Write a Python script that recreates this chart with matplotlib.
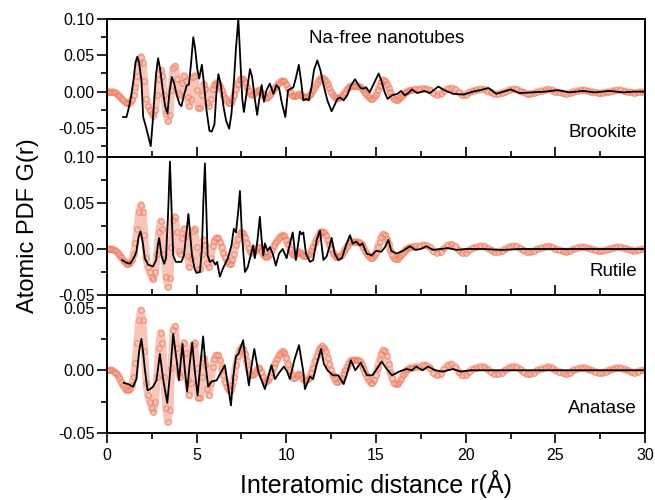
import numpy as np
import matplotlib
matplotlib.use("Agg")
import matplotlib.pyplot as plt
from matplotlib.ticker import MultipleLocator, FormatStrFormatter

plt.rcParams['font.family'] = ['Liberation Sans', 'DejaVu Sans']

# ------------------------------------------------------------------
# Experimental PDF (Na-free nanotubes), read off the figure
# sampled every 0.1 A up to 17 A, every 0.2 A beyond
# ------------------------------------------------------------------
r_exp = np.round(np.concatenate([np.arange(0, 17.0, 0.1),
                                 np.arange(17.0, 30.01, 0.2)]), 2)
g_exp = [
    0.000, 0.000, 0.000, 0.000, -0.001, -0.002, -0.004, -0.006, -0.009, -0.012,
    -0.014, -0.016, -0.016, -0.015, -0.012, -0.005, 0.006, 0.022, 0.040, 0.048,
    0.040, 0.015, -0.010, -0.020, -0.025, -0.030, -0.033, -0.025, -0.005, 0.018,
    0.030, 0.022, -0.005, -0.030, -0.041, -0.032, 0.002, 0.032, 0.035, 0.018,
    -0.002, -0.005, 0.012, 0.022, 0.014, -0.008, -0.020, -0.010, 0.020, 0.022,
    0.002, -0.022, -0.022, -0.005, 0.010, 0.004, -0.015, -0.020, -0.010, 0.003,
    0.009, 0.012, 0.012, 0.008, 0.002, -0.004, -0.009, -0.013, -0.016, -0.016,
    -0.012, -0.005, 0.004, 0.011, 0.016, 0.018, 0.017, 0.013, 0.007, 0.001,
    -0.003, -0.004, -0.003, -0.001, 0.001, 0.002, -0.001, -0.005, -0.008, -0.009,
    -0.008, -0.005, -0.001, 0.003, 0.006, 0.009, 0.012, 0.014, 0.015, 0.014,
    0.010, 0.005, 0.000, -0.004, -0.006, -0.006, -0.004, -0.003, -0.004, -0.006,
    -0.008, -0.008, -0.007, -0.005, -0.002, 0.002, 0.007, 0.011, 0.015, 0.018,
    0.019, 0.018, 0.015, 0.010, 0.005, 0.000, -0.004, -0.007, -0.009, -0.009,
    -0.008, -0.006, -0.003, 0.000, 0.003, 0.006, 0.008, 0.008, 0.008, 0.008,
    0.008, 0.007, 0.005, 0.002, -0.002, -0.005, -0.008, -0.010, -0.010, -0.008,
    -0.004, 0.002, 0.008, 0.013, 0.016, 0.015, 0.011, 0.005, -0.001, -0.006,
    -0.010, -0.011, -0.011, -0.009, -0.007, -0.004, -0.002, 0.000, 0.001, 0.002,
    # 17.0 -> 30.0 step 0.2
    0.002, 0.003, 0.003, 0.004, 0.004, 0.002, -0.002, -0.004, -0.003, 0.001,
    0.004, 0.005, 0.003, -0.001, -0.004, -0.004, -0.001, 0.001, 0.002, 0.003,
    0.003, 0.001, -0.001, -0.003, -0.003, -0.002, 0.000, 0.002, 0.003, 0.003,
    0.001, -0.001, -0.003, -0.003, -0.002, 0.000, 0.001, 0.002, 0.003, 0.002,
    0.000, -0.001, -0.002, -0.003, -0.002, 0.000, 0.001, 0.002, 0.002, 0.001,
    0.000, -0.001, -0.002, -0.002, -0.001, 0.000, 0.001, 0.002, 0.002, 0.001,
    0.000, -0.001, -0.002, -0.001, 0.000, 0.000,
]

# ------------------------------------------------------------------
# Model PDFs (black lines)
# ------------------------------------------------------------------
r_brookite = [
    0.91, 1.1, 1.25, 1.38, 1.5, 1.6, 1.7, 1.8, 1.93, 2.03, 2.2, 2.35, 2.45,
    2.55, 2.65, 2.75, 2.86, 2.98, 3.1, 3.25, 3.38, 3.5, 3.62, 3.75, 3.9, 4.05,
    4.16, 4.3, 4.45, 4.58, 4.7, 4.82, 4.92, 5.05, 5.15, 5.3, 5.42, 5.56, 5.72,
    5.85, 6.0, 6.1, 6.22, 6.35, 6.5, 6.65, 6.82, 6.95, 7.1, 7.2, 7.33, 7.45,
    7.55, 7.64, 7.8, 7.98, 8.1, 8.25, 8.38, 8.5, 8.63, 8.76, 8.9, 9.09, 9.28,
    9.46, 9.6, 9.75, 9.95, 10.1, 10.25, 10.4, 10.55, 10.7, 10.85, 10.95, 11.1,
    11.25, 11.4, 11.55, 11.73, 11.9, 12.06, 12.29, 12.53, 12.7, 12.85, 13.0,
    13.2, 13.4, 13.6, 13.83, 14.0, 14.15, 14.3, 14.45, 14.65, 14.9, 15.15,
    15.3, 15.5, 15.65, 15.9, 16.2, 16.4, 16.6, 16.8, 17.0, 17.3, 17.7, 18.0,
    18.48, 18.8, 19.0, 19.3, 19.9, 20.4, 20.8, 21.27, 21.7, 22.1, 22.5, 23.0,
    23.7, 24.4, 25.1, 25.8, 26.5, 27.2, 28.0, 28.8, 29.4, 30.0,
]
g_brookite = [
    -0.035, -0.035, -0.02, -0.003, 0.018, 0.04, 0.048, 0.04, 0.016, -0.035,
    -0.05, -0.065, -0.075, -0.045, -0.01, 0.025, 0.046, 0.03, 0.006, -0.02,
    -0.03, 0.0, 0.02, 0.012, -0.005, -0.017, -0.02, -0.005, 0.008, 0.01,
    0.04, 0.075, 0.06, 0.03, 0.018, 0.037, 0.01, -0.026, -0.054, -0.055,
    -0.045, -0.005, 0.024, 0.01, -0.02, -0.04, -0.051, -0.03, 0.02, 0.06,
    0.1, 0.04, -0.01, -0.028, 0.0, 0.031, 0.02, -0.01, -0.032, -0.01,
    0.009, -0.014, 0.002, 0.011, -0.003, 0.009, 0.005, -0.015, -0.035, 0.002,
    0.004, 0.006, 0.02, 0.037, 0.01, -0.012, -0.01, -0.012, 0.005, 0.03,
    0.043, 0.03, 0.011, -0.012, -0.027, -0.018, -0.01, -0.008, -0.012, -0.005,
    0.008, 0.017, 0.01, 0.005, 0.004, 0.006, -0.001, 0.012, 0.025, 0.015,
    -0.002, -0.01, -0.005, -0.003, 0.001, -0.005, -0.002, 0.003, -0.002, 0.001,
    -0.002, 0.007, 0.002, 0.0, -0.003, -0.004, 0.0, 0.002, 0.005, -0.003,
    0.0, 0.003, -0.002, -0.001, 0.0, 0.002, -0.001, 0.001, -0.001, 0.001,
    -0.001, 0.0, 0.0,
]

r_rutile = [
    0.85, 1.1, 1.3, 1.5, 1.65, 1.78, 1.88, 2.0, 2.12, 2.3, 2.58, 2.75, 2.85,
    2.92, 3.05, 3.2, 3.3, 3.42, 3.52, 3.6, 3.7, 3.85, 4.16, 4.3, 4.45, 4.55,
    4.65, 4.75, 4.9, 5.0, 5.19, 5.3, 5.38, 5.47, 5.55, 5.62, 5.74, 5.9, 6.05,
    6.15, 6.3, 6.5, 6.75, 6.95, 7.08, 7.2, 7.32, 7.42, 7.52, 7.62, 7.7, 7.85,
    8.07, 8.16, 8.25, 8.4, 8.53, 8.63, 8.72, 8.81, 8.95, 9.09, 9.25, 9.42,
    9.6, 9.8, 10.02, 10.2, 10.36, 10.54, 10.76, 10.85, 10.95, 11.1, 11.32,
    11.5, 11.7, 11.88, 12.07, 12.25, 12.4, 12.53, 12.7, 12.9, 13.1, 13.35,
    13.55, 13.7, 13.9, 14.1, 14.25, 14.48, 14.76, 15.0, 15.3, 15.5, 15.69,
    15.85, 16.15, 16.5, 16.9, 17.2, 17.5, 17.8, 18.2, 18.6, 19.0, 19.5, 20.0,
    21.0, 22.0, 23.0, 24.0, 25.0, 26.0, 27.0, 28.0, 29.0, 30.0,
]
g_rutile = [
    -0.012, -0.015, -0.016, -0.01, -0.003, 0.014, 0.019, 0.008, -0.01, -0.017,
    -0.019, -0.012, 0.005, 0.012, -0.007, -0.016, -0.01, 0.04, 0.095, 0.05,
    -0.007, -0.014, -0.014, -0.007, 0.02, 0.038, 0.015, -0.007, -0.022, -0.026,
    -0.025, 0.0, 0.05, 0.093, 0.04, -0.007, -0.014, -0.012, -0.017, -0.014,
    -0.03, -0.02, -0.01, 0.004, 0.022, 0.018, 0.04, 0.063, 0.02, -0.007,
    -0.025, -0.02, -0.003, 0.004, -0.01, 0.01, 0.035, 0.01, -0.007, 0.006,
    -0.002, 0.002, -0.005, -0.018, -0.005, 0.0, -0.01, 0.005, 0.018, -0.012,
    0.019, 0.016, 0.018, -0.005, -0.014, -0.012, 0.01, 0.02, -0.012, -0.008,
    0.002, 0.012, -0.005, -0.012, -0.01, 0.005, 0.015, 0.006, 0.008, 0.004,
    0.006, -0.005, -0.007, -0.002, -0.003, 0.002, 0.01, -0.002, -0.005, -0.002,
    0.003, -0.001, 0.0, 0.003, -0.001, 0.0, 0.001, -0.001, 0.0, 0.0,
    -0.001, 0.0, 0.0, 0.0, 0.0, 0.0, 0.0, 0.0, 0.0,
]

r_anatase = [
    0.95, 1.19, 1.47, 1.65, 1.8, 1.93, 2.02, 2.12, 2.27, 2.42, 2.58, 2.77,
    2.96, 3.14, 3.37, 3.55, 3.7, 3.9, 4.02, 4.22, 4.35, 4.48, 4.62, 4.76, 4.9,
    5.06, 5.22, 5.37, 5.5, 5.65, 5.84, 6.12, 6.35, 6.58, 6.75, 6.92, 7.05, 7.2,
    7.33, 7.6, 7.75, 7.92, 8.05, 8.22, 8.44, 8.81, 8.98, 9.18, 9.37, 9.6,
    9.87, 10.05, 10.2, 10.45, 10.71, 10.95, 11.04, 11.32, 11.5, 11.7, 11.94,
    12.1, 12.3, 12.6, 12.9, 13.2, 13.4, 13.6, 13.85, 14.15, 14.5, 14.8, 15.0,
    15.32, 15.6, 15.9, 16.3, 16.7, 17.0, 17.24, 17.6, 17.9, 18.3, 18.7, 19.3,
    19.7, 20.3, 21.0, 22.0, 23.0, 24.0, 25.0, 26.0, 27.0, 28.0, 29.0, 30.0,
]
g_anatase = [
    -0.010, -0.011, -0.013, -0.007, 0.015, 0.025, 0.015, 0.001, -0.016, -0.015,
    -0.013, -0.008, 0.013, -0.007, -0.026, 0.001, 0.029, 0.007, -0.008, 0.021,
    0.0, -0.017, 0.005, 0.022, 0.0, -0.020, 0.005, 0.027, 0.005, -0.013,
    -0.009, -0.008, -0.002, 0.004, -0.012, -0.028, -0.005, 0.011, 0.013, 0.024,
    0.005, -0.012, 0.002, 0.017, -0.001, -0.015, -0.006, 0.004, -0.007, -0.002,
    0.003, -0.001, -0.007, 0.008, 0.020, -0.001, -0.015, -0.005, -0.007, 0.005,
    0.017, 0.005, 0.0, -0.004, -0.004, -0.011, -0.002, 0.008, 0.0, 0.006,
    -0.004, -0.004, 0.0, 0.007, 0.001, -0.004, -0.001, 0.001, 0.0, 0.003,
    0.0, 0.003, 0.0, -0.001, 0.001, -0.001, 0.0, 0.0, 0.0, 0.0,
    0.0, 0.0, 0.0, 0.0, 0.0, 0.0, 0.0,
]

panels = [
    ("Brookite", r_brookite, g_brookite, (-0.09, 0.10), [0.10, 0.05, 0.00, -0.05]),
    ("Rutile", r_rutile, g_rutile, (-0.05, 0.10), [0.10, 0.05, 0.00, -0.05]),
    ("Anatase", r_anatase, g_anatase, (-0.05, 0.06), [0.05, 0.00, -0.05]),
]
label_y = [0.18, 0.17, 0.18]

exp_color = '#F07F62'

fig = plt.figure(figsize=(6.55, 5.0), dpi=100)
gs = fig.add_gridspec(3, 1, left=0.163, right=0.985, top=0.962, bottom=0.134,
                      hspace=0)
axes = [fig.add_subplot(gs[i]) for i in range(3)]

for i, (ax, (name, r_mod, g_mod, ylim, yt)) in enumerate(zip(axes, panels)):
    # experimental data: open circles on a faint band
    ax.plot(r_exp, g_exp, '-', color=exp_color, lw=5.5, alpha=0.45,
            solid_capstyle='round', solid_joinstyle='round', zorder=1)
    ax.plot(r_exp, g_exp, 'o', mfc='none', mec=exp_color, ms=4, mew=0.9,
            alpha=0.7, zorder=2)
    # model
    ax.plot(r_mod, g_mod, '-', color='black', lw=1.3, zorder=3)

    ax.set_xlim(0, 30)
    ax.set_ylim(*ylim)
    ax.set_yticks(yt)
    ax.yaxis.set_minor_locator(MultipleLocator(0.025))
    ax.yaxis.set_major_formatter(FormatStrFormatter('%.2f'))
    ax.xaxis.set_major_locator(MultipleLocator(5))
    ax.xaxis.set_minor_locator(MultipleLocator(2.5))

    for sp in ax.spines.values():
        sp.set_linewidth(1.4)
        sp.set_color('black')

    ax.tick_params(axis='y', which='major', direction='out', length=7,
                   width=1.2, labelsize=11.5, pad=2)
    ax.tick_params(axis='y', which='minor', direction='out', length=4,
                   width=1.2)
    if i < 2:
        ax.tick_params(axis='x', which='both', direction='in', labelbottom=False,
                       width=1.2)
    else:
        ax.tick_params(axis='x', which='both', direction='out', width=1.2,
                       labelsize=11.5)
    ax.tick_params(axis='x', which='major', length=7)
    ax.tick_params(axis='x', which='minor', length=4)

    ax.text(0.985, label_y[i], name, transform=ax.transAxes,
            ha='right', va='center', fontsize=13.5)

axes[0].text(0.375, 0.86, "Na-free nanotubes", transform=axes[0].transAxes,
             ha='left', va='center', fontsize=13.5)

axes[2].set_xlabel("Interatomic distance r(\u00c5)", fontsize=18, labelpad=5)
fig.text(0.043, 0.548, "Atomic PDF G(r)", rotation=90, ha='center',
         va='center', fontsize=17)

fig.savefig("out.png", dpi=100)
